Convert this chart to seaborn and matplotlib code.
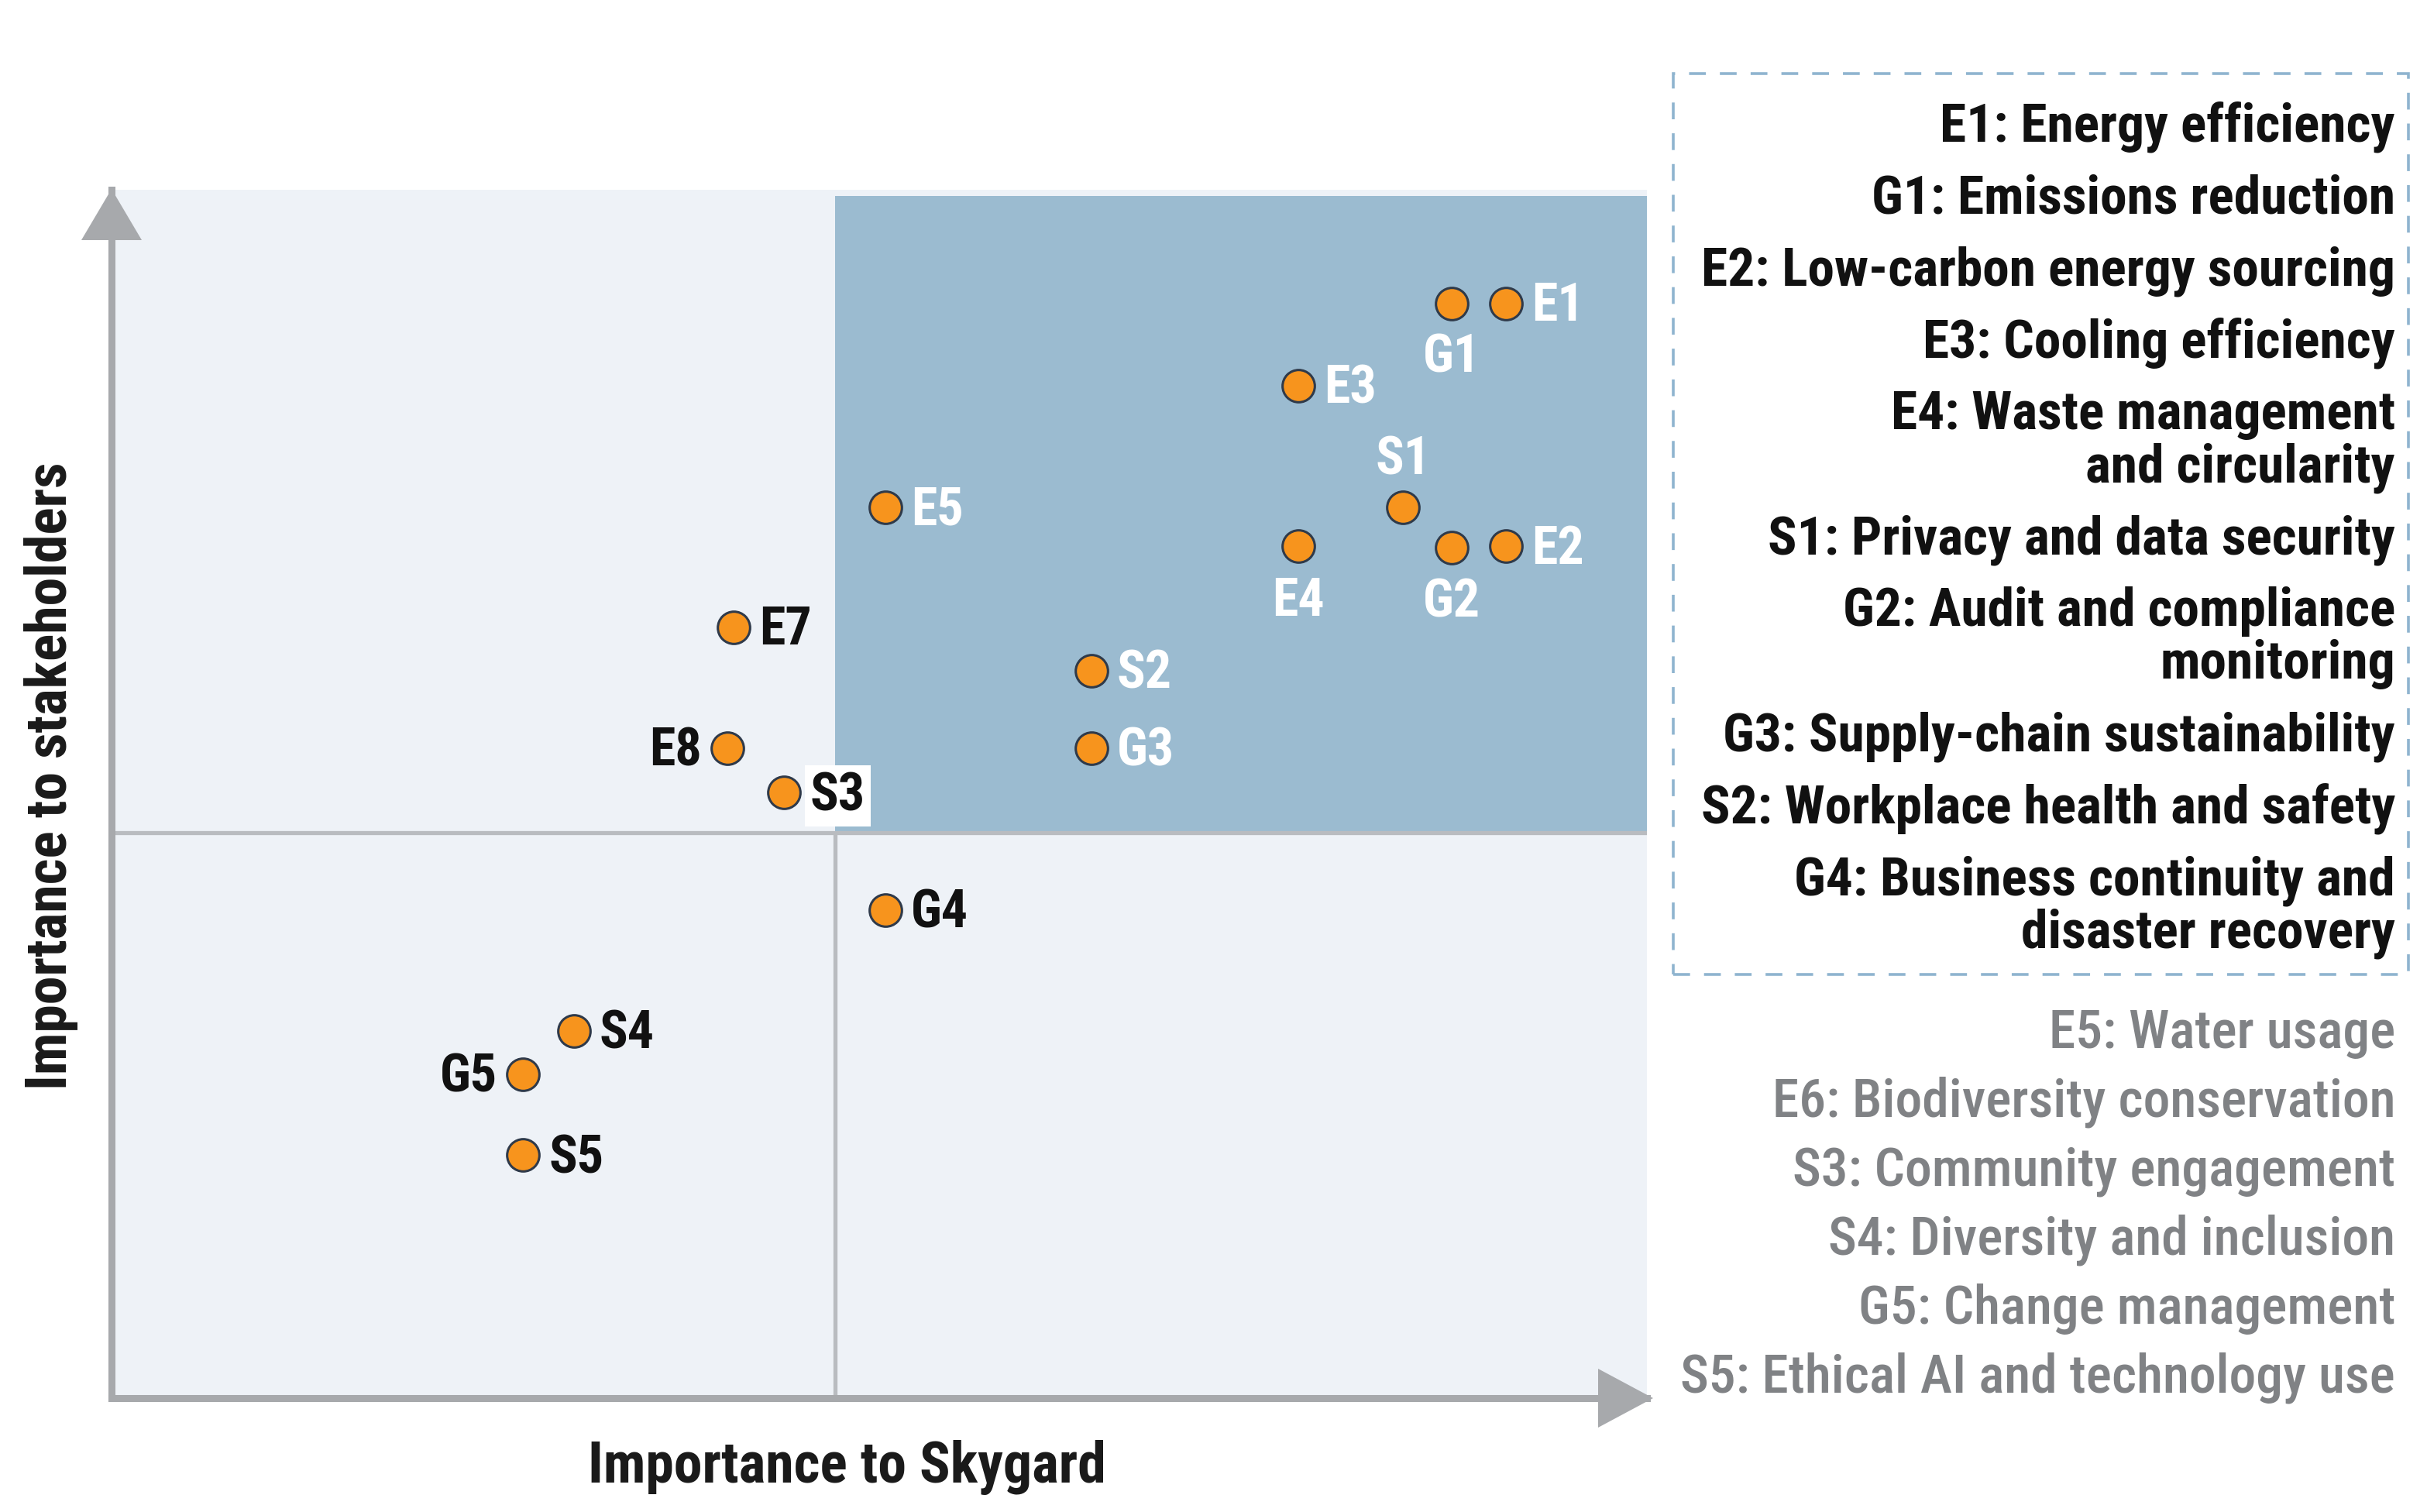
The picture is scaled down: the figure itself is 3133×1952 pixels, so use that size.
import numpy as np
import pandas as pd
import matplotlib
matplotlib.use('Agg')
import matplotlib.pyplot as plt
import seaborn as sns
from matplotlib import font_manager
from matplotlib.patches import Rectangle, Polygon

# ---------------- data ----------------
codes = ['E1', 'G1', 'E3', 'S1', 'E4', 'G2', 'E2', 'E5', 'S2', 'G3',
         'E7', 'E8', 'S3', 'G4', 'S4', 'G5', 'S5']
skygard = [90.8, 87.3, 77.3, 84.1, 77.3, 87.3, 90.8, 50.4, 63.8, 63.8,
           40.5, 40.1, 43.8, 50.4, 30.1, 26.8, 26.8]
stakeholders = [90.6, 90.6, 83.8, 73.7, 70.5, 70.4, 70.5, 73.7, 60.2, 53.8,
                63.8, 53.8, 50.1, 40.4, 30.4, 26.8, 20.1]
label_side = ['right', 'below', 'right', 'above', 'below', 'below', 'right', 'right', 'right', 'right',
              'right', 'left', 'right', 'right', 'right', 'left', 'right']
boxed_labels = ['S3']

x_threshold = 47.1
y_threshold = 46.8
priority_top = 99.5

x_label = 'Importance to Skygard'
y_label = 'Importance to stakeholders'

key_primary = ['E1: Energy efficiency',
               'G1: Emissions reduction',
               'E2: Low-carbon energy sourcing',
               'E3: Cooling efficiency',
               'E4: Waste management\nand circularity',
               'S1: Privacy and data security',
               'G2: Audit and compliance\nmonitoring',
               'G3: Supply-chain sustainability',
               'S2: Workplace health and safety',
               'G4: Business continuity and\ndisaster recovery']
key_secondary = ['E5: Water usage',
                 'E6: Biodiversity conservation',
                 'S3: Community engagement',
                 'S4: Diversity and inclusion',
                 'G5: Change management',
                 'S5: Ethical AI and technology use']

# ---------------- style ----------------
sns.set_theme(style='white')
available = {f.name for f in font_manager.fontManager.ttflist}
family = 'DejaVu Sans'
for cand in ['Roboto Condensed', 'Liberation Sans Narrow', 'DejaVu Sans Condensed', 'Liberation Sans']:
    if cand in available:
        family = cand
        break
plt.rcParams['font.family'] = [family, 'DejaVu Sans']

W, H = 3133, 1952
DPI = 100
fig = plt.figure(figsize=(W / DPI, H / DPI), dpi=DPI)
fig.patch.set_facecolor('white')

def fx(px):
    return px / W

def fy(py):
    return 1 - py / H

ax_left, ax_right, ax_top, ax_bottom = 144, 2126, 245, 1805
ax = fig.add_axes([fx(ax_left), fy(ax_bottom), fx(ax_right - ax_left), (ax_bottom - ax_top) / H])

light = '#EEF2F7'
blue = '#9BBBD0'
grey_axis = '#A7A9AC'
grey_div = '#B9BCC0'
orange = '#F7941D'
edge = '#2F3A4A'

ax.set_facecolor(light)
ax.set_xlim(0, 100)
ax.set_ylim(0, 100)

# priority quadrant
ax.add_patch(Rectangle((x_threshold, y_threshold), 100 - x_threshold, priority_top - y_threshold,
                       facecolor=blue, edgecolor='none', zorder=1))
# dividers
ax.plot([x_threshold, x_threshold], [0, y_threshold], color=grey_div, lw=3.8, zorder=1.5,
        solid_capstyle='butt')
ax.axhline(y_threshold, color=grey_div, lw=3.8, zorder=1.5)

df = pd.DataFrame({'code': codes, 'x': skygard, 'y': stakeholders})
sns.scatterplot(data=df, x='x', y='y', ax=ax, s=900, color=orange, edgecolor=edge,
                linewidth=2.2, zorder=4, legend=False)

offsets = {'right': (24, -3, 'left', 'center'),
           'left': (-24, -3, 'right', 'center'),
           'below': (0, -51, 'center', 'center'),
           'above': (0, 44, 'center', 'center')}
for c, xv, yv, side in zip(codes, skygard, stakeholders, label_side):
    dx, dy, ha, va = offsets[side]
    in_priority = xv > x_threshold and yv > y_threshold
    col = 'white' if in_priority else '#111111'
    kw = {}
    if c in boxed_labels:
        kw['bbox'] = dict(boxstyle='square,pad=0.1', facecolor='white', edgecolor='none')
    ax.annotate(c, (xv, yv), xytext=(dx, dy), textcoords='offset points', ha=ha, va=va,
                fontsize=49, fontweight='bold', color=col, zorder=5, **kw)

ax.set_xticks([])
ax.set_yticks([])
ax.set_xlabel('')
ax.set_ylabel('')
for s in ['top', 'right']:
    ax.spines[s].set_visible(False)
for s in ['left', 'bottom']:
    ax.spines[s].set_color(grey_axis)
    ax.spines[s].set_linewidth(6.5)
    ax.spines[s].set_zorder(3)

# arrow heads
fig.add_artist(Polygon([(fx(144), fy(244)), (fx(105), fy(310)), (fx(183), fy(310))],
                       closed=True, transform=fig.transFigure, facecolor=grey_axis,
                       edgecolor='none', zorder=10))
fig.add_artist(Polygon([(fx(2134), fy(1805)), (fx(2063), fy(1767)), (fx(2063), fy(1843))],
                       closed=True, transform=fig.transFigure, facecolor=grey_axis,
                       edgecolor='none', zorder=10))

# axis titles
fig.text(fx(1093), fy(1894), x_label, ha='center', va='center', fontsize=53,
         fontweight='bold', color='#1A1A1A')
fig.text(fx(66), fy(1002), y_label, ha='center', va='center', rotation=90, fontsize=53,
         fontweight='bold', color='#1A1A1A')

# key box
fig.add_artist(Rectangle((fx(2160), fy(1258)), fx(3109 - 2160), (1258 - 95) / H,
                         transform=fig.transFigure, facecolor='none', edgecolor='#8FB4CF',
                         lw=2.6, linestyle=(0, (6, 5)), zorder=10))

text_right = 3092
y = 164
for entry in key_primary:
    for line in entry.split('\n'):
        fig.text(fx(text_right), fy(y), line, ha='right', va='center', fontsize=50,
                 fontweight='bold', color='#111111')
        y += 68
    y += 93 - 68

y = 1334
for entry in key_secondary:
    fig.text(fx(text_right), fy(y), entry, ha='right', va='center', fontsize=50,
             fontweight='medium', color='#808285')
    y += 89

fig.savefig('out.png', dpi=DPI, facecolor='white')
